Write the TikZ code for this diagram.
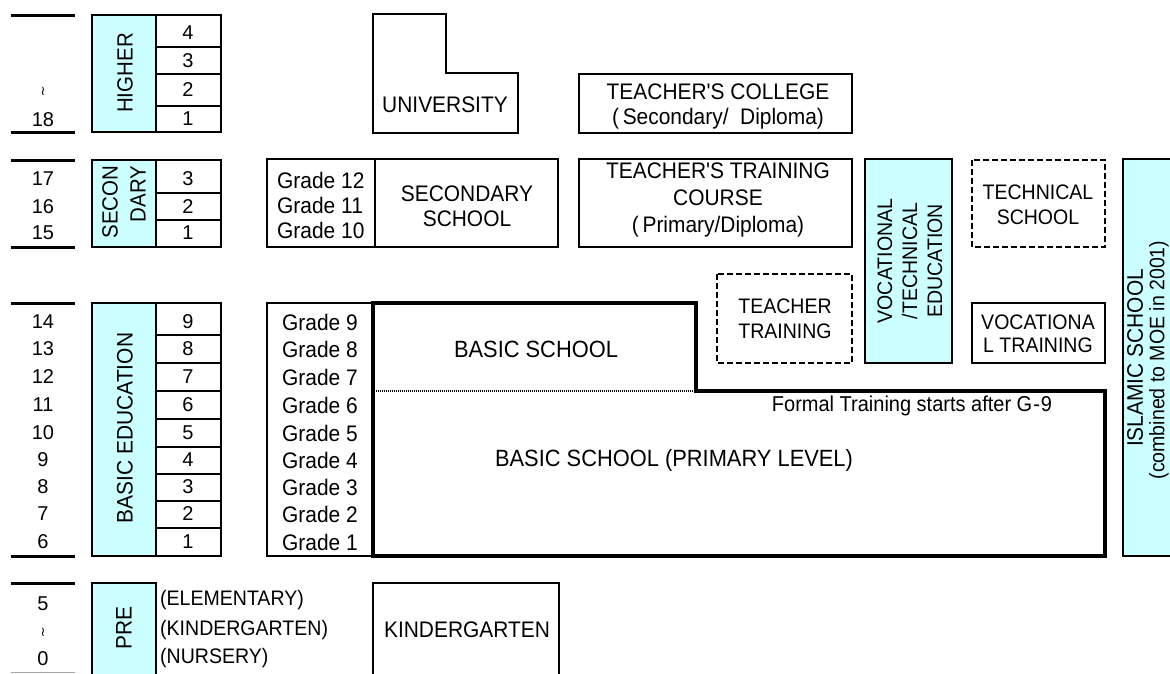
\documentclass[tikz,border=0pt]{standalone}
\usepackage{fontspec}
\setmainfont{Liberation Sans}
\newfontfamily\tallf{Liberation Sans}[FakeStretch=0.93]
\newfontfamily\symf{DejaVu Sans}
\definecolor{cy}{HTML}{CCFFFF}
\begin{document}
\begin{tikzpicture}[x=1pt,y=-1pt,line join=miter,
  bx/.style={line width=2.6pt},
  thk/.style={line width=4.6pt},
  dsh/.style={line width=2.4pt, dash pattern=on 6pt off 3pt},
  cyb/.style={line width=2.6pt, fill=cy},
  agel/.style={line width=3pt},
  txt/.style={font=\tallf\fontsize{22.5}{27}\selectfont, inner sep=0pt, align=center},
  txtb/.style={font=\tallf\fontsize{23.5}{27}\selectfont, inner sep=0pt, align=center},
  txtm/.style={font=\tallf\fontsize{21}{25}\selectfont, inner sep=0pt, align=center},
  num/.style={font=\fontsize{20}{24}\selectfont, inner sep=0pt},
  wav/.style={font=\symf\fontsize{13}{14}\selectfont, inner sep=0pt},
  grd/.style={font=\tallf\fontsize{22.5}{24}\selectfont, inner sep=0pt, anchor=west},
  prel/.style={font=\tallf\fontsize{21}{24}\selectfont, inner sep=0pt, anchor=west}]
\useasboundingbox (0,0) rectangle (1170,673);

% ---------- age column ----------
\foreach \y in {15,132,160,247,303,556,583} \draw[agel] (11,\y) -- (75,\y);
\draw[black!35, line width=0.8pt] (11,672) -- (75,672);
\node[wav] (tilde1) at (43,91) {≀};
\node[num] (a18) at (43,120) {18};
\node[num] (a17) at (43,179) {17};
\node[num] (a16) at (43,207) {16};
\node[num] (a15) at (43,233) {15};
\foreach \a/\y in {14/322,13/349,12/377,11/405,10/433,9/460,8/487,7/514,6/542}
  \node[num] (age\a) at (43,\y) {\a};
\node[num] (a5) at (43,604) {5};
\node[wav] (tilde2) at (43,632) {≀};
\node[num] (a0) at (43,659) {0};

% ---------- HIGHER ----------
\filldraw[cyb] (92,15) rectangle (156,132);
\draw[bx] (156,15) rectangle (221,132);
\foreach \y in {47,74,106} \draw[bx] (156,\y) -- (221,\y);
\node[txt, rotate=90, font=\tallf\fontsize{22}{26}\selectfont] (higher) at (125,73) {HIGHER};
\node[num] (h4) at (188,33) {4};
\node[num] (h3) at (188,61) {3};
\node[num] (h2) at (188,90) {2};
\node[num] (h1) at (188,119) {1};

% ---------- SECONDARY ----------
\filldraw[cyb] (92,160) rectangle (156,247);
\draw[bx] (156,160) rectangle (221,247);
\foreach \y in {193,220} \draw[bx] (156,\y) -- (221,\y);
\node[txt, rotate=90, align=right, font=\tallf\fontsize{22}{28}\selectfont] (secon) at (124,202) {SECON\\DARY};
\node[num] (s3) at (188,179) {3};
\node[num] (s2) at (188,207) {2};
\node[num] (s1) at (188,233) {1};

% ---------- BASIC EDUCATION ----------
\filldraw[cyb] (92,303) rectangle (156,556);
\draw[bx] (156,303) rectangle (221,556);
\foreach \y in {335,363,391,419,447,474,501,528} \draw[bx] (156,\y) -- (221,\y);
\node[txt, rotate=90] (basicedu) at (125,428) {BASIC EDUCATION};
\foreach \n/\y in {9/322,8/349,7/377,6/405,5/433,4/460,3/487,2/514,1/542}
  \node[num] (b\n) at (188,\y) {\n};

% ---------- PRE ----------
\filldraw[cyb] (92,583) rectangle (156,690);
\node[txt, rotate=90] (pre) at (124,628) {PRE};
\node[prel] (elem) at (160,600) {(ELEMENTARY)};
\node[prel] (kind) at (160,630) {(KINDERGARTEN)};
\node[prel] (nurs) at (160,658) {(NURSERY)};

% ---------- University ----------
\draw[bx] (373,14) -- (446,14) -- (446,73) -- (518,73) -- (518,133) -- (373,133) -- cycle;
\node[txt] (univ) at (445,105) {UNIVERSITY};

% ---------- Teacher's college ----------
\draw[bx] (579,74) rectangle (852,133);
\node[txt] (tc1) at (718,92) {TEACHER'S COLLEGE};
\node[txt] (tc2) at (718,119) {(\,Secondary/\ \ Diploma)};

% ---------- Secondary school ----------
\draw[bx] (267,159) rectangle (558,247);
\draw[bx] (375,159) -- (375,247);
\node[grd] (g12) at (277,180) {Grade 12};
\node[grd] (g11) at (277,205) {Grade 11};
\node[grd] (g10) at (277,230) {Grade 10};
\node[txt, font=\tallf\fontsize{22.5}{25}\selectfont] (secsch) at (467,206) {SECONDARY\\SCHOOL};

% ---------- Teacher's training course ----------
\draw[bx] (579,159) rectangle (852,247);
\node[txt, font=\tallf\fontsize{22.5}{27}\selectfont] (ttc) at (718,200) {TEACHER'S TRAINING\\COURSE\\(\,Primary/Diploma)};

% ---------- Vocational / technical education ----------
\filldraw[cyb] (865,159) rectangle (952,363);
\node[txtm, rotate=90] (vte) at (910,261) {VOCATIONAL\\/TECHNICAL\\EDUCATION};

% ---------- Technical school ----------
\draw[dsh] (972,160) rectangle (1105,247);
\node[txtm] (techsch) at (1038,205) {TECHNICAL\\SCHOOL};

% ---------- Vocational training ----------
\draw[bx] (972,303) rectangle (1105,363);
\node[txtm, font=\tallf\fontsize{21}{23}\selectfont] (voctr) at (1038,334) {VOCATIONA\\L TRAINING};

% ---------- Teacher training ----------
\draw[dsh] (717,274) rectangle (852,363);
\node[txtm] (tchtr) at (785,319) {TEACHER\\TRAINING};

% ---------- Islamic school ----------
\filldraw[cyb] (1123,159) rectangle (1200,556);
\node[txt, rotate=90] (islamic1) at (1135,358) {ISLAMIC SCHOOL};
\node[txt, rotate=90, font=\tallf\fontsize{21}{25}\selectfont] (islamic2) at (1159,360) {(combined to MOE in 2001)};

% ---------- Grades 1-9 ----------
\draw[bx] (267,303) rectangle (372,556);
\foreach \n/\y in {9/322,8/349,7/377,6/405,5/433,4/460,3/487,2/514,1/542}
  \node[grd] (gr\n) at (282,\y) {Grade \n};

% ---------- Basic school ----------
\draw[line width=2.4pt, dash pattern=on 1pt off 1pt] (376,391) -- (694,391);
\draw[thk] (373,303) -- (696,303) -- (696,391) -- (1105,391) -- (1105,556) -- (373,556) -- cycle;
\node[txtb] (bs) at (536,349) {BASIC SCHOOL};
\node[txtb] (bsp) at (674,460) {BASIC SCHOOL (PRIMARY LEVEL)};
\node[txt, font=\tallf\fontsize{21.5}{24}\selectfont] (formal) at (912,406) {Formal Training starts after G{\kern1pt}-{\kern1pt}9};

% ---------- Kindergarten ----------
\draw[bx] (373,583) rectangle (559,690);
\node[txt] (kg) at (467,630) {KINDERGARTEN};

\end{tikzpicture}
\end{document}
